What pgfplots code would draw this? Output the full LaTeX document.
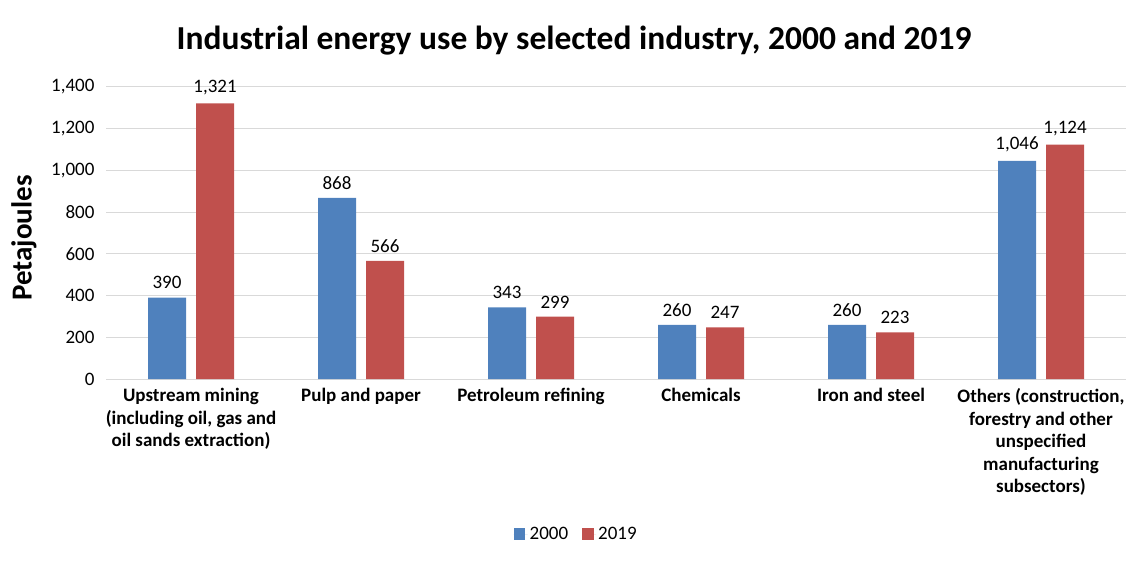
\documentclass[border=0pt]{standalone}
\usepackage{pgfplots}
\pgfplotsset{compat=1.18}
\usepackage{fontspec}
\setmainfont{Carlito}
\definecolor{s2000}{HTML}{4F81BD}
\definecolor{s2019}{HTML}{C0504D}
\definecolor{gridgray}{HTML}{D9D9D9}
\begin{document}
\begin{tikzpicture}
\path[use as bounding box] (0,0) rectangle (1148pt,565pt);
\node[font=\fontsize{33.5}{38}\selectfont\bfseries] at (574pt,524pt) {Industrial energy use by selected industry, 2000 and 2019};
\node[font=\fontsize{29}{33}\selectfont\bfseries, rotate=90] at (24pt,327pt) {Petajoules};
\begin{axis}[
  at={(106pt,186pt)}, anchor=south west,
  scale only axis, width=1020pt, height=292pt,
  ybar=10pt, bar width=38pt,
  xmin=-0.5, xmax=5.5, ymin=0, ymax=1400,
  xtick=data,
  xticklabels={
    {Upstream mining\\(including oil, gas and\\oil sands extraction)},
    {Pulp and paper},
    {Petroleum refining},
    {Chemicals},
    {Iron and steel},
    {Others (construction,\\forestry and other\\unspecified\\manufacturing\\subsectors)}},
  xticklabel style={font=\fontsize{19}{22.5}\selectfont\bfseries, align=center, anchor=north, yshift=-6pt},
  ytick={0,200,...,1400},
  yticklabel style={font=\fontsize{19}{22}\selectfont, xshift=-8pt},
  /pgf/number format/assume math mode=true,
  /pgf/number format/1000 sep={,},
  major tick length=0pt,
  ymajorgrids, grid style={gridgray, line width=1pt},
  axis line style={draw=none},
  nodes near coords,
  every node near coord/.append style={font=\fontsize{19}{22}\selectfont, yshift=5pt},
  legend columns=2,
  legend style={at={(0.461,-0.531)}, anchor=center, draw=none, font=\fontsize{19}{22}\selectfont,
    /tikz/every even column/.append style={column sep=12pt}},
  legend image code/.code={\fill[#1] (0pt,-5.5pt) rectangle (11.5pt,6pt);
    \path (0pt,0pt) -- (14pt,0pt);},
]
\addplot[fill=s2000, draw=none] coordinates {(0,390) (1,868) (2,343) (3,260) (4,260) (5,1046)};
\addlegendentry{2000}
\addplot[fill=s2019, draw=none] coordinates {(0,1321) (1,566) (2,299) (3,247) (4,223) (5,1124)};
\addlegendentry{2019}
\end{axis}
\end{tikzpicture}
\end{document}
